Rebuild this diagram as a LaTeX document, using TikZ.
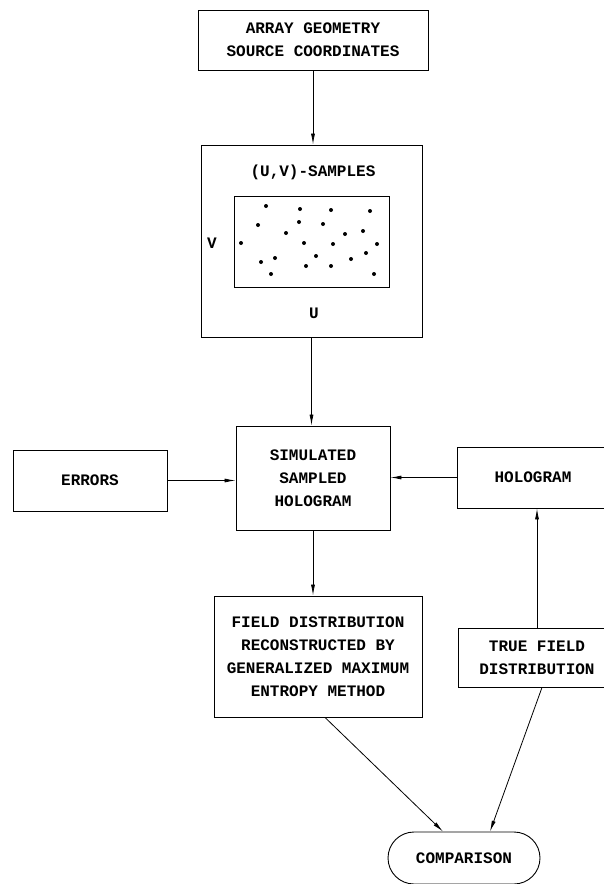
\documentclass[tikz,border=0pt]{standalone}
\usepackage{fontspec}
\setmonofont{Liberation Mono}
\usetikzlibrary{arrows.meta, positioning, calc}

\begin{document}
\begin{tikzpicture}[
        x=1pt, y=-1pt,
        >={Latex[length=11pt,width=4pt]},
        line width=0.9pt,
        % Estilos de texto y bloques
        lbl/.style={font=\ttfamily\bfseries\fontsize{16}{23}\selectfont},
        block/.style={draw, rectangle, lbl, align=center, inner sep=0pt},
        flow/.style={->, line width=0.8pt}
    ]
        \useasboundingbox (0,0) rectangle (603,884);

        % Bloque superior
        \node[block, minimum width=230pt, minimum height=60pt] (geom) at (313,40) {ARRAY GEOMETRY\\SOURCE COORDINATES};

        % Plano (u,v) con las muestras
        \node[block, minimum width=221pt, minimum height=192pt] (uv) at (311.5,241) {};
        \node[lbl] (uvtitle) at (313,172) {(U,V)-SAMPLES};
        \node[draw, minimum width=155pt, minimum height=91pt, inner sep=0pt] (plane) at (311.5,241.5) {};
        \node[lbl] (vlab) at (212,243) {V};
        \node[lbl] (ulab) at (314,313) {U};
        \foreach \u/\v in {266/206, 300/209, 331/210, 370/211, 258/225, 299/222,
                           323/224, 286/233, 345/234, 363/231, 241/243, 304/243,
                           333/244, 377/244, 275/258, 261/262, 316/256, 366/253,
                           351/259, 306/266, 331/266, 271/274, 374/274}
            \fill (\u,\v) circle (2pt);

        % Fila central
        \node[block, minimum width=154pt, minimum height=104pt] (sim) at (313,478) {SIMULATED\\SAMPLED\\HOLOGRAM};
        \node[block, minimum width=154pt, minimum height=61pt] (errors) at (90,480.5) {ERRORS};
        \node[block, minimum width=152pt, minimum height=61pt] (holo) at (533,477.5) {HOLOGRAM};

        % Reconstruccion y distribucion verdadera
        \node[block, minimum width=208pt, minimum height=121pt] (field) at (318,656.5) {FIELD DISTRIBUTION\\RECONSTRUCTED BY\\GENERALIZED MAXIMUM\\ENTROPY METHOD};
        \node[block, minimum width=158pt, minimum height=59pt] (truefd) at (537,657.5) {TRUE FIELD\\DISTRIBUTION};
        \node[block, rounded corners=26pt, minimum width=152pt, minimum height=52pt] (comp) at (464,858) {COMPARISON};

        % Conexiones
        \draw[flow] (geom.south) -- (geom.south |- uv.north);
        \draw[flow] (uv.south) -- (uv.south |- sim.north);
        \draw[flow] (errors.east) -- (errors.east -| sim.west);
        \draw[flow] (holo.west) -- (holo.west -| sim.east);
        \draw[flow] (sim.south) -- (sim.south |- field.north);
        \draw[flow] (truefd.north) -- (truefd.north |- holo.south);
        \draw[flow] ([xshift=7pt]field.south) -- ([xshift=-21pt]comp.north);
        \draw[flow] ([xshift=5pt]truefd.south) -- ([xshift=26pt]comp.north);

    \end{tikzpicture}
\end{document}
